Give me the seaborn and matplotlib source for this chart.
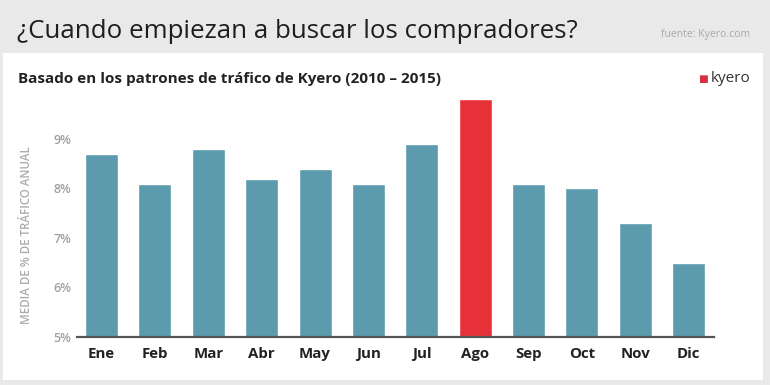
import matplotlib
matplotlib.use('Agg')
import matplotlib.pyplot as plt
import matplotlib.patches as mpatches
import pandas as pd
import seaborn as sns

# Data
months = ['Ene', 'Feb', 'Mar', 'Abr', 'May', 'Jun', 'Jul', 'Ago', 'Sep', 'Oct', 'Nov', 'Dic']
traffic = [8.7, 8.1, 8.8, 8.2, 8.4, 8.1, 8.9, 9.8, 8.1, 8.0, 7.3, 6.5]
yticks = [5, 6, 7, 8, 9]
ytick_labels = ['5%', '6%', '7%', '8%', '9%']
highlight = 'Ago'

teal = '#5b9bad'
red = '#e8323a'

df = pd.DataFrame({'Mes': months, 'Trafico': traffic})
palette = {m: (red if m == highlight else teal) for m in months}

sns.set_style('white')
plt.rcParams['font.family'] = ['Open Sans', 'DejaVu Sans']

fig = plt.figure(figsize=(7.7, 3.85), dpi=100)
fig.patch.set_facecolor('#e9e9e9')

# white card behind the chart
card = mpatches.Rectangle((3 / 770, 5 / 385), 760 / 770, 327 / 385,
                          transform=fig.transFigure, facecolor='white',
                          edgecolor='none', zorder=-10)
fig.patches.append(card)

ax = fig.add_axes([0.1, 0.1247, 0.827, 0.63])
ax.set_facecolor('none')
sns.barplot(data=df, x='Mes', y='Trafico', hue='Mes', palette=palette,
            legend=False, width=0.62, saturation=1, ax=ax)

ax.set_ylim(5, 9.9)
ax.set_xlim(-0.46, 11.47)
ax.set_yticks(yticks)
ax.set_yticklabels(ytick_labels, color='#a0a0a0', fontsize=9, fontweight='semibold')
ax.set_xticks(range(len(months)))
ax.set_xticklabels(months, color='#222222', fontsize=10.8, fontweight='bold')
ax.tick_params(axis='both', length=0)
ax.tick_params(axis='x', pad=7)
ax.tick_params(axis='y', pad=4)
ax.set_xlabel('')
ax.set_ylabel('MEDIA DE % DE TRÁFICO ANUAL', color='#ababab', fontsize=8.3,
              fontweight='semibold')
ax.yaxis.set_label_coords(-0.069, 0.42)
for s in ['top', 'right', 'left']:
    ax.spines[s].set_visible(False)
ax.spines['bottom'].set_color('#555555')
ax.spines['bottom'].set_linewidth(1.6)

# titles and notes
fig.text(17 / 770, 1 - 31 / 385, '¿Cuando empiezan a buscar los compradores?',
         fontsize=18.6, fontweight='medium', color='#1e1e1e', va='center', ha='left')
fig.text(750 / 770, 1 - 35 / 385, 'fuente: Kyero.com', fontsize=7.5,
         color='#a8a8a8', va='center', ha='right')
fig.text(18 / 770, 1 - 79 / 385, 'Basado en los patrones de tráfico de Kyero (2010 – 2015)',
         fontsize=11, fontweight='bold', color='#222222', va='center', ha='left')
fig.text(750 / 770, 1 - 79 / 385, 'kyero', fontsize=11, color='#333333',
         va='center', ha='right')
fig.text(708 / 770, 1 - 79 / 385, '■', fontsize=7.5, color='#d8303a',
         va='center', ha='right', family='DejaVu Sans')

fig.savefig('out.png', dpi=100, facecolor=fig.get_facecolor())
